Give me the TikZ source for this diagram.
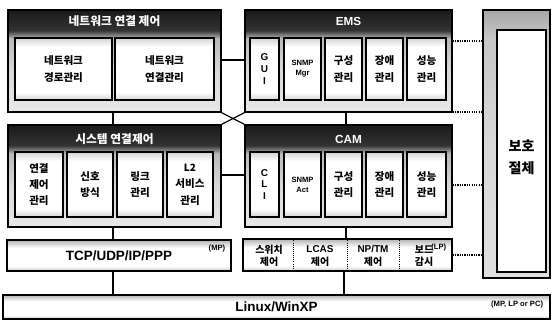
\documentclass[tikz,border=0pt]{standalone}
\usepackage{fontspec}
\setmainfont{Liberation Sans}
\newfontfamily\krfont{Noto Sans CJK KR}
\usetikzlibrary{positioning}
\pgfdeclareverticalshading{grpshade}{100bp}{color(0bp)=(gray!18); color(25bp)=(gray!18); color(45bp)=(gray!30); color(61bp)=(gray!55); color(65bp)=(black!80); color(75bp)=(black!90); color(100bp)=(black!90)}
\pgfdeclareverticalshading{cellshade}{100bp}{color(0bp)=(gray!35); color(25bp)=(gray!35); color(31bp)=(white); color(68bp)=(white); color(75bp)=(gray!35); color(100bp)=(gray!35)}
\pgfdeclareverticalshading{barshade}{100bp}{color(0bp)=(gray!40); color(25bp)=(gray!40); color(33bp)=(white); color(62bp)=(white); color(75bp)=(gray!60); color(100bp)=(gray!60)}
\pgfdeclareverticalshading{protshade}{100bp}{color(0bp)=(gray!25); color(25bp)=(gray!25); color(50bp)=(gray!30); color(70bp)=(gray!45); color(75bp)=(gray!70); color(100bp)=(gray!70)}
\tikzset{
  grp/.style={draw, line width=1.3pt, shade, shading=grpshade, minimum height=3.06cm, inner sep=0pt},
  grptitle/.style={text=white, font=\krfont\bfseries\fontsize{10}{12}\selectfont},
  cell/.style={draw, line width=1.2pt, shade, shading=cellshade, align=center, inner sep=0pt,
               font=\krfont\bfseries\fontsize{9}{14}\selectfont},
  lcell/.style={cell, font=\bfseries\fontsize{8.5}{10}\selectfont},
  scell/.style={cell, font=\bfseries\fontsize{6.5}{8.5}\selectfont},
  bar/.style={draw, line width=1.2pt, shade, shading=barshade, inner sep=0pt},
  tag/.style={font=\bfseries\fontsize{6.5}{7}\selectfont},
  link/.style={line width=1pt},
  dots/.style={line width=1pt, densely dotted},
  sep/.style={line width=0.8pt, densely dotted},
}
\begin{document}
\begin{tikzpicture}[x=0.03cm, y=-0.03cm]
  \useasboundingbox (0,0) rectangle (553,334);

  % upper row
  \node[grp, minimum width=6.39cm] (nwctl) at (114.5,61) {};
  \node[grptitle] at (114.5,21) {네트워크 연결 제어};
  \node[cell, minimum width=2.91cm, minimum height=1.86cm] (nwpath) at (63.5,69) {네트워크\\경로관리};
  \node[cell, minimum width=2.97cm, minimum height=1.86cm] (nwconn) at (164.5,69) {네트워크\\연결관리};

  \node[grp, minimum width=6.21cm] (ems) at (348.5,61) {};
  \node[grptitle, font=\bfseries\fontsize{10}{12}\selectfont] at (348.5,21) {EMS};
  \node[lcell, minimum width=0.87cm, minimum height=1.86cm] (gui) at (264.5,69) {G\\U\\I};
  \node[scell, minimum width=1.11cm, minimum height=1.86cm] (snmpm) at (302.5,69) {SNMP\\Mgr};
  \node[cell, minimum width=1.11cm, minimum height=1.86cm] (cfgm) at (343.5,69) {구성\\관리};
  \node[cell, minimum width=1.11cm, minimum height=1.86cm] (fltm) at (384.5,69) {장애\\관리};
  \node[cell, minimum width=1.17cm, minimum height=1.86cm] (perfm) at (426.5,69) {성능\\관리};

  % middle row
  \node[grp, minimum width=6.39cm] (sysctl) at (114.5,176) {};
  \node[grptitle] at (114.5,139) {시스템 연결제어};
  \node[cell, minimum width=1.44cm, minimum height=1.95cm] (connm) at (39,184.5) {연결\\제어\\관리};
  \node[cell, minimum width=1.38cm, minimum height=1.95cm] (sigm) at (90,184.5) {신호\\방식};
  \node[cell, minimum width=1.38cm, minimum height=1.95cm] (linkm) at (140,184.5) {링크\\관리};
  \node[cell, minimum width=1.38cm, minimum height=1.95cm] (l2m) at (190,184.5) {{\bfseries\fontsize{8.5}{10}\selectfont L2}\\서비스\\관리};

  \node[grp, minimum width=6.21cm] (cam) at (348.5,176) {};
  \node[grptitle, font=\bfseries\fontsize{10}{12}\selectfont] at (348.5,139) {CAM};
  \node[lcell, minimum width=0.87cm, minimum height=1.95cm] (cli) at (264.5,184.5) {C\\L\\I};
  \node[scell, minimum width=1.11cm, minimum height=1.95cm] (snmpa) at (302.5,184.5) {SNMP\\Act};
  \node[cell, minimum width=1.11cm, minimum height=1.95cm] (cfga) at (343.5,184.5) {구성\\관리};
  \node[cell, minimum width=1.11cm, minimum height=1.95cm] (flta) at (384.5,184.5) {장애\\관리};
  \node[cell, minimum width=1.17cm, minimum height=1.95cm] (perfa) at (426.5,184.5) {성능\\관리};

  % protection switching
  \node[draw, line width=1.2pt, shade, shading=protshade, minimum width=2.01cm, minimum height=8.04cm] (prot) at (516.5,144) {};
  \node[draw, line width=1.2pt, fill=white, minimum width=1.47cm, minimum height=7.26cm] (protin) at (521.5,151) {};
  \node[align=center, font=\krfont\bfseries\fontsize{12}{19}\selectfont] (protlbl) at (521.5,157) {보호\\절체};

  % lower bars
  \node[bar, minimum width=6.72cm, minimum height=0.93cm, font=\bfseries\fontsize{11.5}{13}\selectfont] (tcp) at (119,255.5) {TCP/UDP/IP/PPP};
  \node[tag, anchor=north east] at ([xshift=-2pt,yshift=-1pt]tcp.north east) {(MP)};

  \node[bar, minimum width=6.27cm, minimum height=0.96cm] (swbox) at (347.5,255) {};
  \node[tag, anchor=north east] at ([xshift=-2pt,yshift=-1pt]swbox.north east) {(LP)};
  \draw[sep] (293,0 |- swbox.north) -- (293,0 |- swbox.south);
  \draw[sep] (347,0 |- swbox.north) -- (347,0 |- swbox.south);
  \draw[sep] (399,0 |- swbox.north) -- (399,0 |- swbox.south);
  \node[align=center, font=\krfont\bfseries\fontsize{8.5}{10.5}\selectfont] (swc) at (269,256) {스위치\\제어};
  \node[align=center, font=\krfont\bfseries\fontsize{8.5}{10.5}\selectfont] (lcas) at (320,256) {{\fontspec{Liberation Sans}LCAS}\\제어};
  \node[align=center, font=\krfont\bfseries\fontsize{8.5}{10.5}\selectfont] (nptm) at (373,256) {{\fontspec{Liberation Sans}NP/TM}\\제어};
  \node[align=center, font=\krfont\bfseries\fontsize{8.5}{10.5}\selectfont] (brd) at (424,256) {보드\\감시};

  \node[bar, minimum width=16.41cm, minimum height=0.72cm, font=\bfseries\fontsize{11.5}{13}\selectfont] (linux) at (276.5,307) {Linux/WinXP};
  \node[tag, anchor=north east] at ([xshift=-3pt,yshift=-2pt]linux.north east) {(MP, LP or PC)};

  % connectors
  \draw[link] (nwctl.east |- 0,60) -- (ems.west |- 0,60);
  \draw[link] (sysctl.east |- 0,175) -- (cam.west |- 0,175);
  \draw[link] (nwctl.south east) -- (cam.north west);
  \draw[link] (ems.south west) -- (sysctl.north east);
  \draw[link] (113,0 |- nwctl.south) -- (113,0 |- sysctl.north);
  \draw[link] (113,0 |- sysctl.south) -- (113,0 |- tcp.north);
  \draw[link] (113,0 |- tcp.south) -- (113,0 |- linux.north);
  \draw[link] (346,0 |- ems.south) -- (346,0 |- cam.north);
  \draw[link] (346,0 |- cam.south) -- (346,0 |- swbox.north);
  \draw[link] (344,0 |- swbox.south) -- (344,0 |- linux.north);

  % dotted links to protection box
  \draw[dots] (ems.east |- 0,41) -- (prot.west |- 0,41);
  \draw[dots] (ems.east |- 0,112) -- (prot.west |- 0,112);
  \draw[dots] (cam.east |- 0,185) -- (prot.west |- 0,185);
  \draw[dots] (swbox.east |- 0,255) -- (prot.west |- 0,255);
\end{tikzpicture}
\end{document}
